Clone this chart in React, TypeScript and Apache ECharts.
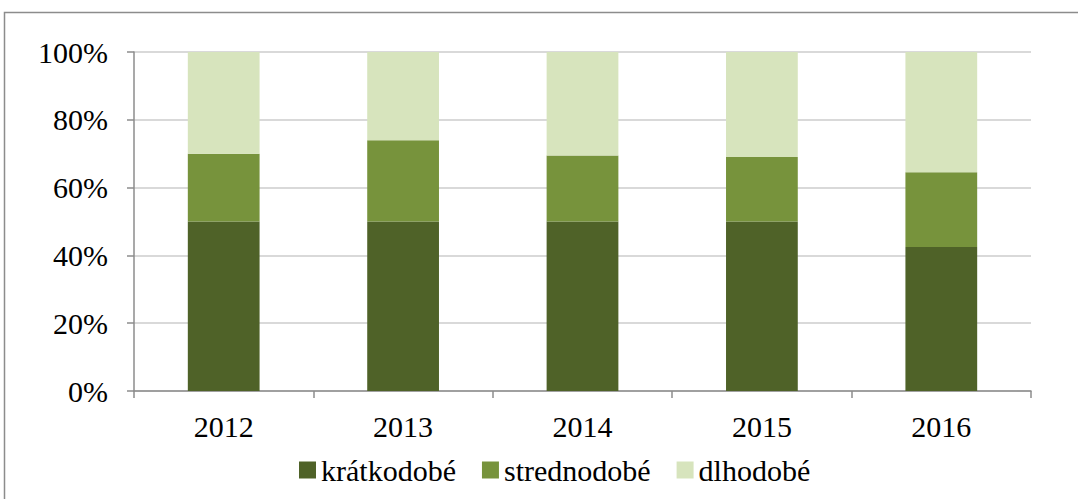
import React, { useEffect, useRef } from "react";
import * as echarts from "echarts";

const categories = ["2012", "2013", "2014", "2015", "2016"];
const kratkodobe = [50, 50, 50, 50, 42.5];
const strednodobe = [20, 24, 19.5, 19, 22];
const dlhodobe = [30, 26, 30.5, 31, 35.5];
const seriesNames = ["krátkodobé", "strednodobé", "dlhodobé"];
const colors = ["#4f6228", "#77933c", "#d7e4bd"];

export default function App() {
  const ref = useRef<HTMLDivElement>(null);
  useEffect(() => {
    if (!ref.current) return;
    const chart = echarts.init(ref.current, null, { renderer: "svg" });
    const font = "Times New Roman";
    const data = [kratkodobe, strednodobe, dlhodobe];
    chart.setOption({
      animation: false,
      textStyle: { fontFamily: font },
      graphic: [
        {
          type: "rect",
          shape: { x: 4.5, y: 12.5, width: 1200, height: 600 },
          style: { fill: "none", stroke: "#8c8c8c", lineWidth: 1.5 },
          silent: true,
        },
      ],
      legend: {
        top: 450,
        left: 294,
        padding: 5,
        itemWidth: 17,
        itemHeight: 17,
        itemGap: 26,
        icon: "rect",
        data: seriesNames,
        textStyle: { fontFamily: font, fontSize: 30, color: "#000" },
      },
      grid: { left: 134, right: 47, top: 52, bottom: 108 },
      xAxis: {
        type: "category",
        data: categories,
        axisLine: { lineStyle: { color: "#8c8c8c", width: 1.5 } },
        axisTick: { show: true, length: 7, lineStyle: { color: "#8c8c8c", width: 1.5 } },
        axisLabel: { fontFamily: font, fontSize: 30, color: "#000", margin: 20 },
      },
      yAxis: {
        type: "value",
        min: 0,
        max: 100,
        interval: 20,
        axisLine: { show: true, lineStyle: { color: "#8c8c8c", width: 1.5 } },
        axisTick: { show: true, length: 7, lineStyle: { color: "#8c8c8c", width: 1.5 } },
        splitLine: { lineStyle: { color: "#d9d9d9", width: 2 } },
        axisLabel: {
          fontFamily: font,
          fontSize: 30,
          color: "#000",
          margin: 26,
          formatter: "{value}%",
        },
      },
      series: seriesNames.map((name, i) => ({
        name,
        type: "bar",
        stack: "total",
        barWidth: "40%",
        data: data[i],
        itemStyle: { color: colors[i] },
      })),
    });
    return () => chart.dispose();
  }, []);
  return <div ref={ref} style={{ width: 1078, height: 499, position: "absolute", left: 0, top: 0 }} />;
}
